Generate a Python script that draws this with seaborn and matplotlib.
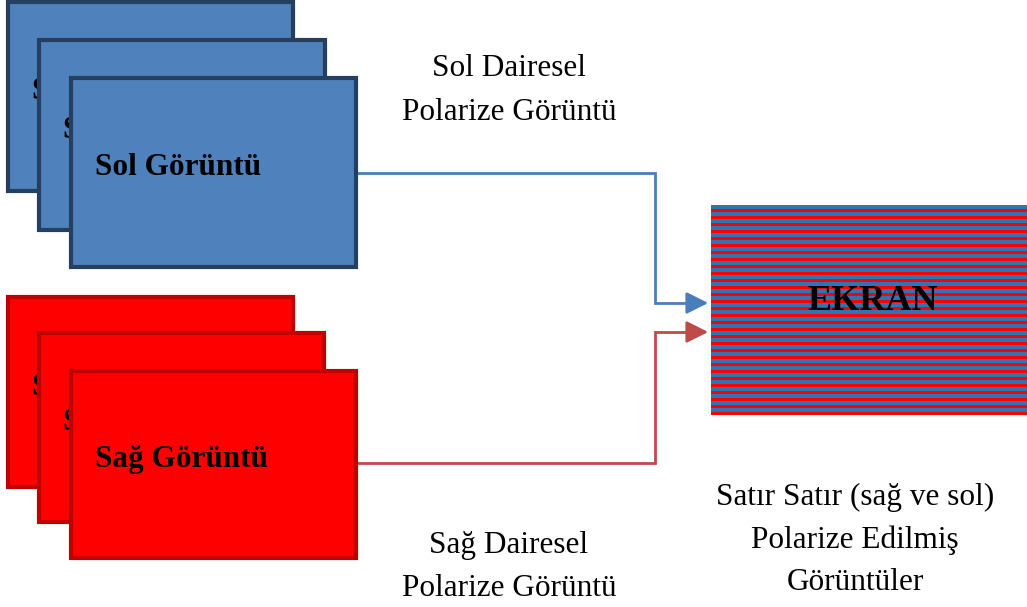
import numpy as np
import matplotlib.pyplot as plt
from matplotlib.patches import Rectangle
from matplotlib.colors import ListedColormap
import seaborn as sns

sns.set_theme(style="white")
plt.rcParams['font.family'] = ['Liberation Serif', 'DejaVu Serif']
plt.rcParams['text.color'] = 'black'

# ── Diagram content ──────────────────────────────────────────────────────────
left_label = "Sol Görüntü"
right_label = "Sağ Görüntü"
screen_label = "EKRAN"
left_caption = ["Sol Dairesel", "Polarize Görüntü"]
right_caption = ["Sağ Dairesel", "Polarize Görüntü"]
screen_caption = ["Satır Satır (sağ ve sol)", "Polarize Edilmiş", "Görüntüler"]

# stripe rows of the screen: 0 = blue line, 1 = red line
stripe_rows = [0, 1] * 30

# ── Layout (pixel coordinates, y downwards) ─────────────────────────────────
W, H = 1027, 607
blue_stack = [(8, 2, 285, 189), (39, 40, 286, 190), (71, 78, 285, 189)]
red_stack = [(8, 297, 285, 190), (39, 333, 285, 189), (71, 371, 285, 187)]
screen_box = (711, 205, 320, 210)
LINE_GAP = 43

BLUE_FILL, BLUE_EDGE = '#4F81BD', '#243F60'
RED_FILL, RED_EDGE = '#FF0000', '#C00000'
BLUE_LINE, RED_LINE = '#4A7EBB', '#BE4B48'
STRIPE_BLUE, STRIPE_RED = '#2E75B6', '#FF0000'

fig = plt.figure(figsize=(W / 100, H / 100), dpi=100)
ax = fig.add_axes([0, 0, 1, 1])
ax.set_xlim(0, W)
ax.set_ylim(H, 0)
ax.axis('off')


def draw_stack(boxes, label, fill, edge):
    for i, (x, y, w, h) in enumerate(boxes):
        z = 2 + i * 2
        ax.add_patch(Rectangle((x, y), w, h, facecolor=fill, edgecolor=edge,
                               linewidth=3, zorder=z))
        ax.text(x + 24, y + h / 2 - 5, label, fontsize=22.5, fontweight='bold',
                ha='left', va='center', color='black', zorder=z + 1)


def caption(lines, cx, top):
    for k, line in enumerate(lines):
        ax.text(cx, top + k * LINE_GAP, line, fontsize=22.5, ha='center',
                va='center', color='black')


draw_stack(blue_stack, left_label, BLUE_FILL, BLUE_EDGE)
draw_stack(red_stack, right_label, RED_FILL, RED_EDGE)

# connectors
bx, by, bw, bh = blue_stack[-1]
rx, ry, rw, rh = red_stack[-1]
sx, sy, sw, sh = screen_box
arrow = dict(arrowstyle='-|>,head_length=1.1,head_width=0.55', lw=2)
ax.plot([bx + bw, 655, 655, sx - 14], [173, 173, 303, 303],
        color=BLUE_LINE, lw=2, zorder=1, solid_joinstyle='miter')
ax.annotate('', xy=(sx, 303), xytext=(sx - 16, 303),
            arrowprops=dict(arrow, color=BLUE_LINE))
ax.plot([rx + rw, 655, 655, sx - 14], [463, 463, 332, 332],
        color=RED_LINE, lw=2, zorder=1, solid_joinstyle='miter')
ax.annotate('', xy=(sx, 332), xytext=(sx - 16, 332),
            arrowprops=dict(arrow, color=RED_LINE))

# striped screen as a seaborn heatmap in its own axes
sax = fig.add_axes([sx / W, 1 - (sy + sh) / H, sw / W, sh / H])
sns.heatmap(np.array(stripe_rows)[:, None], ax=sax, cbar=False,
            cmap=ListedColormap([STRIPE_BLUE, STRIPE_RED]),
            xticklabels=False, yticklabels=False)
sax.text(0.505, 0.54, screen_label, transform=sax.transAxes, fontsize=26,
         fontweight='bold', ha='center', va='center', color='black')

# captions
caption(left_caption, 509, 69)
caption(right_caption, 509, 546)
caption(screen_caption, 855, 497)

fig.savefig('out.png', dpi=100, facecolor='white')
